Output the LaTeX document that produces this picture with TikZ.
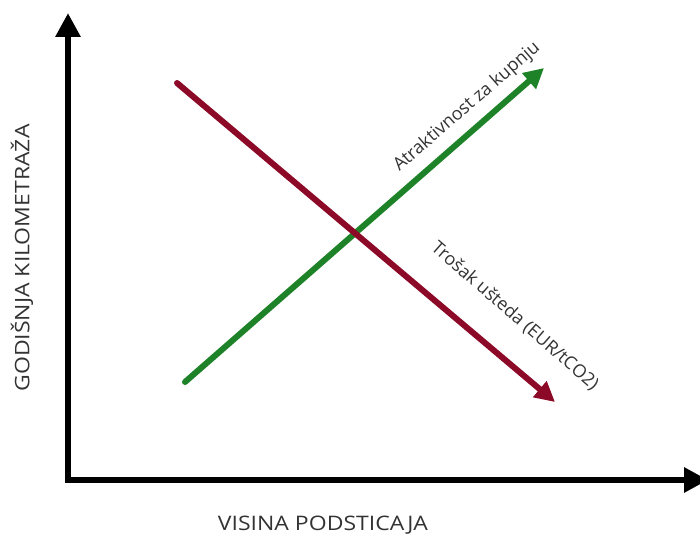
\documentclass[tikz,border=0pt]{standalone}
\usepackage{fontspec}
\setmainfont{Open Sans}
\usetikzlibrary{arrows.meta}
\definecolor{rastgreen}{RGB}{30,130,40}
\definecolor{padred}{RGB}{140,10,40}

\begin{document}
\begin{tikzpicture}[x=1pt, y=-1pt,
	axis/.style={line width=6pt, -{Triangle[length=24pt, width=24pt]}},
	trend/.style={line width=6pt, line cap=round, -{Triangle[length=20pt, width=20pt]}},
	lbl/.style={font=\fontsize{18}{21}\selectfont, text=black!80, inner sep=0pt},
	axlbl/.style={lbl, font=\fontsize{20}{23}\selectfont}]
	\useasboundingbox (0,0) rectangle (700,537);
	\coordinate (O) at (68,480);
	\coordinate (ytop) at (68,13);
	\coordinate (xend) at (708,480);
	\draw[axis] (O) -- (ytop);
	\draw[axis] ([xshift=-3pt]O) -- (xend);
	\coordinate (g0) at (185,382);
	\coordinate (g1) at (544,68);
	\coordinate (r0) at (177,83);
	\coordinate (r1) at (555,402);
	\draw[trend, rastgreen] (g0) -- (g1);
	\draw[trend, padred] (r0) -- (r1);
	\node[lbl, rotate=41] (atr) at (467,107) {Atraktivnost za kupnju};
	\node[lbl, rotate=-41] (tro) at (515,316) {Trošak ušteda (EUR/tCO2)};
	\node[axlbl, rotate=90, xscale=1.15] (ylab) at (22,258) {GODIŠNJA KILOMETRAŽA};
	\node[axlbl, xscale=1.15] (xlab) at (323,525) {VISINA PODSTICAJA};
\end{tikzpicture}
\end{document}
